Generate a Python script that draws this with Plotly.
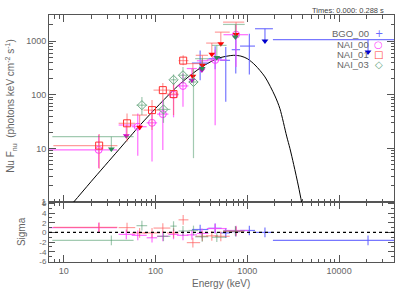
import plotly.graph_objects as go

# ---------------- data ----------------
# model curve (nu F_nu)
model_E = [9, 12.8, 20, 39.6, 68, 110, 185, 319, 484, 705, 850, 1000, 1213, 1556, 2000, 2265, 2680, 2911, 3200, 3600, 3900, 4300]
model_F = [0.5, 1.0, 2.45, 9.4, 27.3, 66, 160, 330, 480, 543, 525, 470, 358, 215, 95, 55, 17, 10, 5, 2, 1.0, 0.4]

# BGO_00 (blue)
bgo_E   = [306, 446, 582, 748, 1052, 1556, 20650]
bgo_Elo = [249, 376, 505, 676, 833, 1213, 1900]
bgo_Ehi = [376, 525, 648, 833, 1213, 1900, 40000]
bgo_F   = [390, 470, 438, 692, 807, 1000, 625]
bgo_Flo = [186, 300, 74, 248, 238, 1000, 625]
bgo_Fhi = [671, 800, 774, 1371, 1371, 1700, 1062]
bgo_UL  = [0, 0, 0, 0, 0, 1, 1]
bgo_sig = [0.6, 0.85, -0.1, 0.15, 0.4, 0.0, -1.65]

# NAI_00 (magenta)
n00_E   = [24, 48, 64, 91.5, 120, 157, 199, 249, 320, 446, 753]
n00_Elo = [6.5, 39.6, 55, 80, 104, 138, 171, 219, 282, 362, 550]
n00_Ehi = [38, 60, 80, 104, 138, 178, 228, 282, 376, 594, 1020]
n00_F   = [9.4, 17.3, 25.4, 30, 43.6, 100, 146, 187, 290, 445, 1315]
n00_Flo = [4.3, 17.3, 7.3, 5.7, 9.4, 38, 60, 187, 290, 27, 330]
n00_Fhi = [18, 27.3, 45, 52, 79, 160, 248, 308, 430, 700, 2000]
n00_UL  = [0, 1, 0, 0, 0, 0, 0, 1, 1, 0, 0]
n00_sig = [1.0, -0.4, -0.6, -1.1, -0.8, -0.4, -0.6, -0.5, -0.2, 0.8, 0.4]

# NAI_01 (red)
n01_E   = [24.3, 48.9, 67, 91.5, 120, 157, 200, 255, 324, 410, 514, 753]
n01_Elo = [7.7, 39.6, 55.4, 74, 95, 133, 178, 219, 274, 356, 443, 544]
n01_Ehi = [38.4, 60, 80.7, 112, 145, 178, 228, 306, 372, 480, 643, 925]
n01_F   = [11.3, 29.4, 24.7, 51.8, 122, 103, 433, 221, 354, 566, 895, 1331]
n01_Flo = [4.2, 13.4, 24.7, 22, 79, 42, 354, 221, 354, 566, 895, 1331]
n01_Fhi = [18.6, 45, 41.9, 79.5, 166, 160, 543, 381, 543, 918, 1468, 2254]
n01_UL  = [0, 0, 1, 0, 0, 0, 0, 1, 1, 1, 1, 1]
n01_sig = [1.05, 1.0, -0.1, -0.1, 0.9, -0.1, 2.6, -2.1, -0.8, -0.7, -0.8, 0.2]

# NAI_03 (green)
n03_E   = [33, 71, 122, 157, 199, 259, 322, 465, 741]
n03_Elo = [7.5, 62, 104, 145, 178, 228, 270, 411, 544]
n03_Ehi = [57.6, 81, 145, 170, 228, 292, 376, 594, 937]
n03_F   = [9.8, 64, 53.3, 190, 231, 173, 308, 492, 1186]
n03_Flo = [9.8, 42, 30, 150, 162, 6.6, 308, 492, 1186]
n03_Fhi = [16.6, 91, 80, 240, 330, 300, 471, 832, 2042]
n03_UL  = [1, 0, 0, 0, 0, 0, 1, 1, 1]
n03_sig = [-1.65, 1.4, -0.8, 1.3, 0.3, 0.4, -0.9, -1.0, 0.3]

x_ticks = [10, 100, 1000, 10000]
x_ticklabels = ["10", "100", "1000", "10000"]
y_ticks = [1, 10, 100, 1000]
y_ticklabels = ["1", "10", "100", "1000"]
s_ticks = [-6, -4, -2, 0, 2, 4, 6]
s_ticklabels = ["-6", "-4", "-2", "0", "2", "4", "6"]

# ---------------- styles ----------------
FONT = "Liberation Sans"
AX = "#555555"
TXT = "#666666"

datasets = [
    ("BGO_00", bgo_E, bgo_Elo, bgo_Ehi, bgo_F, bgo_Flo, bgo_Fhi, bgo_UL, bgo_sig,
     "rgba(95,95,255,0.85)", None, None, "#0000cc"),
    ("NAI_00", n00_E, n00_Elo, n00_Ehi, n00_F, n00_Flo, n00_Fhi, n00_UL, n00_sig,
     "rgba(255,70,255,0.8)", "circle-open", "#ff40ff", "#cc00cc"),
    ("NAI_01", n01_E, n01_Elo, n01_Ehi, n01_F, n01_Flo, n01_Fhi, n01_UL, n01_sig,
     "rgba(255,90,90,0.6)", "square-open", "#ff3030", "#ff0000"),
    ("NAI_03", n03_E, n03_Elo, n03_Ehi, n03_F, n03_Flo, n03_Fhi, n03_UL, n03_sig,
     "rgba(70,150,100,0.5)", "diamond-open", "#6aa882", "#2e8b57"),
]

fig = go.Figure()

fig.add_trace(go.Scatter(x=model_E, y=model_F, mode="lines",
                         line=dict(color="black", width=1, shape="spline", smoothing=0.8),
                         xaxis="x2", yaxis="y", hoverinfo="skip", showlegend=False))

for (name, E, Elo, Ehi, F, Flo, Fhi, UL, sig, bc, sym, mc, tc) in datasets:
    idx_n = [i for i in range(len(E)) if not UL[i]]
    idx_u = [i for i in range(len(E)) if UL[i]]
    if idx_n:
        fig.add_trace(go.Scatter(
            x=[E[i] for i in idx_n], y=[F[i] for i in idx_n], mode="markers",
            marker=dict(symbol=sym if sym else "circle", size=7 if sym else 1,
                        color=mc if mc else "rgba(0,0,0,0)",
                        line=dict(width=1, color=mc if mc else "rgba(0,0,0,0)")),
            error_x=dict(type="data", symmetric=False, array=[Ehi[i] - E[i] for i in idx_n],
                         arrayminus=[E[i] - Elo[i] for i in idx_n], color=bc, thickness=1.2, width=0),
            error_y=dict(type="data", symmetric=False, array=[Fhi[i] - F[i] for i in idx_n],
                         arrayminus=[F[i] - Flo[i] for i in idx_n], color=bc, thickness=1.2, width=0),
            xaxis="x2", yaxis="y", showlegend=False, hoverinfo="skip"))
    if idx_u:
        fig.add_trace(go.Scatter(
            x=[E[i] for i in idx_u], y=[Fhi[i] for i in idx_u], mode="markers",
            marker=dict(size=1, color="rgba(0,0,0,0)"),
            error_x=dict(type="data", symmetric=False, array=[Ehi[i] - E[i] for i in idx_u],
                         arrayminus=[E[i] - Elo[i] for i in idx_u], color=bc, thickness=1.2, width=0),
            xaxis="x2", yaxis="y", showlegend=False, hoverinfo="skip"))
        fig.add_trace(go.Scatter(
            x=[E[i] for i in idx_u], y=[F[i] for i in idx_u], mode="markers",
            marker=dict(symbol="triangle-down", size=6, color=tc, line=dict(width=0)),
            error_y=dict(type="data", symmetric=False, array=[Fhi[i] - F[i] for i in idx_u],
                         arrayminus=[0] * len(idx_u), color=bc, thickness=1.2, width=0),
            xaxis="x2", yaxis="y", showlegend=False, hoverinfo="skip"))
    fig.add_trace(go.Scatter(
        x=E, y=sig, mode="markers", marker=dict(size=1, color="rgba(0,0,0,0)"),
        error_x=dict(type="data", symmetric=False, array=[Ehi[i] - E[i] for i in range(len(E))],
                     arrayminus=[E[i] - Elo[i] for i in range(len(E))], color=bc, thickness=1.2, width=0),
        error_y=dict(type="constant", value=1, color=bc, thickness=1.2, width=0),
        xaxis="x", yaxis="y2", showlegend=False, hoverinfo="skip"))

fig.add_shape(type="line", xref="x domain", yref="y2", x0=0, x1=1, y0=0, y1=0,
              line=dict(color="black", width=1.2, dash="dot"))

d = 60 / 247.5
xr = [0.839, 4.598]
common_x = dict(type="log", range=xr, showline=True, linecolor=AX, linewidth=1, mirror="allticks",
                ticks="inside", ticklen=7, tickcolor=AX, showgrid=False, zeroline=False,
                tickvals=x_ticks, ticktext=x_ticklabels,
                minor=dict(ticks="inside", ticklen=3.5, tickcolor=AX, dtick="D1", showgrid=False))

fig.update_layout(
    width=407, height=291,
    margin=dict(l=49, r=13, t=14.5, b=29),
    plot_bgcolor="white", paper_bgcolor="white",
    showlegend=False,
    xaxis=dict(**common_x, anchor="y2", domain=[0, 1], tickfont=dict(family=FONT, size=9, color=TXT)),
    xaxis2=dict(**common_x, anchor="y", matches="x", showticklabels=False, domain=[0, 1]),
    yaxis=dict(type="log", range=[0, 3.486], domain=[d, 1], anchor="x2", showline=True, linecolor=AX,
               linewidth=1, mirror="allticks", ticks="inside", ticklen=7, tickcolor=AX, showgrid=False,
               zeroline=False, tickvals=y_ticks, ticktext=y_ticklabels,
               minor=dict(ticks="inside", ticklen=3.5, tickcolor=AX, dtick="D1", showgrid=False),
               tickfont=dict(family=FONT, size=9, color=TXT)),
    yaxis2=dict(range=[-6.1, 6.25], domain=[0, d], anchor="x", showline=True, linecolor=AX, linewidth=1,
                mirror="allticks", ticks="inside", ticklen=6, tickcolor=AX, showgrid=False, zeroline=False,
                tickvals=s_ticks, ticktext=s_ticklabels,
                minor=dict(ticks="inside", ticklen=3, tickcolor=AX, dtick=1, showgrid=False),
                tickfont=dict(family=FONT, size=8, color=TXT)),
)


def px_x(p):
    return (p - 48.5) / 345.5


def px_y(p):
    return (262 - p) / 247.5


ann = [
    dict(text="Times: 0.000: 0.288 s", x=px_x(386), y=px_y(9.5), xanchor="right", yanchor="middle",
         font=dict(family=FONT, size=7.5, color="#444444")),
    dict(text="Energy (keV)", x=px_x(221), y=px_y(284), xanchor="center", yanchor="middle",
         font=dict(family=FONT, size=10, color=TXT)),
    dict(text="Nu F<sub>nu</sub>  (photons keV cm<sup>-2</sup> s<sup>-1</sup>)", x=px_x(10), y=px_y(106),
         xanchor="center", yanchor="middle", textangle=-90, font=dict(family=FONT, size=10, color=TXT)),
    dict(text="Sigma", x=px_x(20.5), y=px_y(232), xanchor="center", yanchor="middle", textangle=-90,
         font=dict(family=FONT, size=10, color=TXT)),
]
legend_names = ["BGO_00", "NAI_00", "NAI_01", "NAI_03"]
legend_syms = ["+", "○", "□", "◇"]
legend_cols = ["#6a6aff", "#ff40ff", "#ff4040", "#6aa882"]
legend_y = [33.3, 44, 54.3, 64.3]
for nm, sy, c, yy in zip(legend_names, legend_syms, legend_cols, legend_y):
    ann.append(dict(text=nm, x=px_x(371), y=px_y(yy), xanchor="right", yanchor="middle",
                    font=dict(family=FONT, size=9.5, color=TXT)))
    ann.append(dict(text=sy, x=px_x(378.5), y=px_y(yy), xanchor="center", yanchor="middle",
                    font=dict(family="DejaVu Sans", size=10, color=c)))
for a in ann:
    a.update(xref="paper", yref="paper", showarrow=False)
fig.update_layout(annotations=ann)

fig.write_html("out.html", config={"displayModeBar": False},
               post_script="document.body.style.margin='0px';document.body.style.padding='0px';")
